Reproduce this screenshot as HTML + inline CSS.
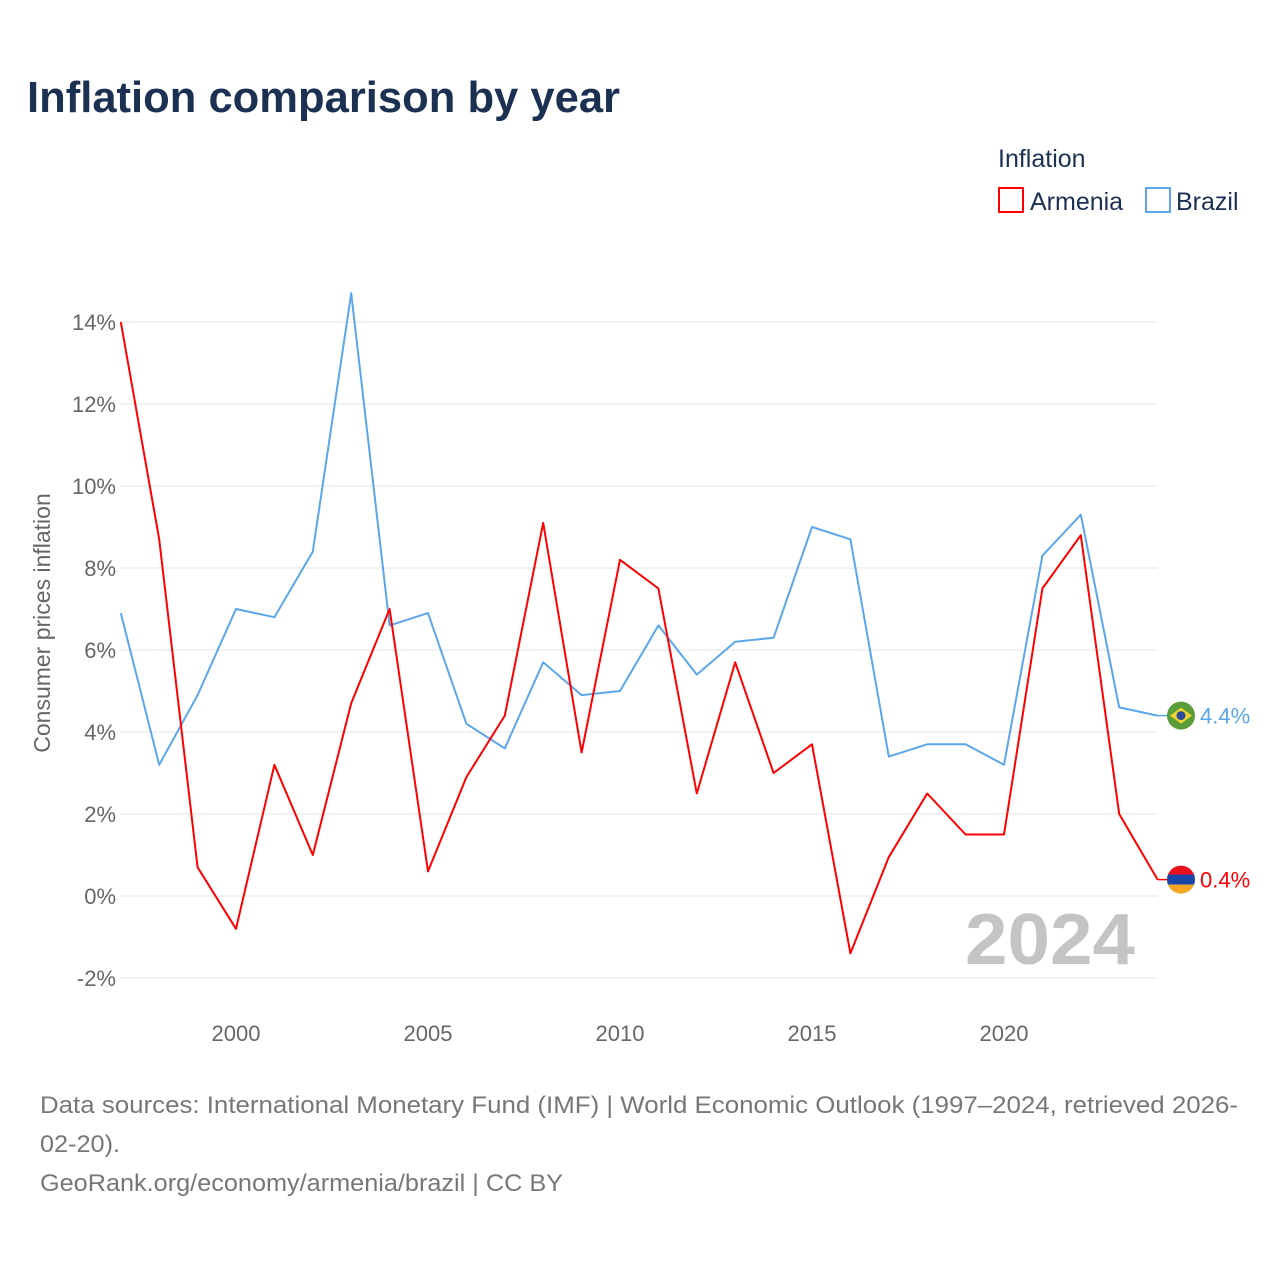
<!DOCTYPE html>
<html><head><meta charset="utf-8">
<style>
body{margin:0;background:#fff;font-family:"Liberation Sans",sans-serif;}
svg text{font-family:"Liberation Sans",sans-serif;}
</style></head>
<body>
<svg id="chart" width="1280" height="1280" viewBox="0 0 1280 1280">
<text x="27" y="112" font-size="44" font-weight="bold" fill="#1c3152" textLength="593" lengthAdjust="spacingAndGlyphs">Inflation comparison by year</text>
<g>
<text x="998" y="167" font-size="25" fill="#1c3152">Inflation</text>
<g><rect x="999" y="188" width="24" height="24" fill="none" stroke="#ff0000" stroke-width="2"/><text x="1030" y="210" font-size="25" fill="#1c3152">Armenia</text></g>
<g><rect x="1146" y="188" width="24" height="24" fill="none" stroke="#5ba7ea" stroke-width="2"/><text x="1176" y="210" font-size="25" fill="#1c3152">Brazil</text></g>
</g>
<g id="grid"></g>
<g id="yticks"></g>
<g id="xticks"></g>
<text transform="translate(50,623) rotate(-90)" text-anchor="middle" font-size="23" fill="#666">Consumer prices inflation</text>
<text x="965" y="964" font-size="72" font-weight="bold" fill="#c4c4c4" textLength="170" lengthAdjust="spacingAndGlyphs">2024</text>
<g id="series"></g>
<text x="40" y="1113" font-size="24" fill="#777" textLength="1198" lengthAdjust="spacingAndGlyphs">Data sources: International Monetary Fund (IMF) | World Economic Outlook (1997–2024, retrieved 2026-</text>
<text x="40" y="1152" font-size="24" fill="#777" textLength="80" lengthAdjust="spacingAndGlyphs">02-20).</text>
<text x="40" y="1191" font-size="24" fill="#777" textLength="523" lengthAdjust="spacingAndGlyphs">GeoRank.org/economy/armenia/brazil | CC BY</text>
</svg>
<script>
const years=[1997,1998,1999,2000,2001,2002,2003,2004,2005,2006,2007,2008,2009,2010,2011,2012,2013,2014,2015,2016,2017,2018,2019,2020,2021,2022,2023,2024];
const armenia=[14.0,8.7,0.7,-0.8,3.2,1.0,4.7,7.0,0.6,2.9,4.4,9.1,3.5,8.2,7.5,2.5,5.7,3.0,3.7,-1.4,0.95,2.5,1.5,1.5,7.5,8.8,2.0,0.4];
const brazil=[6.9,3.2,4.9,7.0,6.8,8.4,14.7,6.6,6.9,4.2,3.6,5.7,4.9,5.0,6.6,5.4,6.2,6.3,9.0,8.7,3.4,3.7,3.7,3.2,8.3,9.3,4.6,4.4];
const yTicks=[-2,0,2,4,6,8,10,12,14];
const xTicks=[2000,2005,2010,2015,2020];
const NS="http://www.w3.org/2000/svg";
const X=y=>120.8+(y-1997)*38.4;
const Y=v=>896-v*41;
function mk(tag,attrs,parent){const e=document.createElementNS(NS,tag);for(const k in attrs)e.setAttribute(k,attrs[k]);parent.appendChild(e);return e;}
const grid=document.getElementById('grid'),yt=document.getElementById('yticks'),xt=document.getElementById('xticks'),ser=document.getElementById('series');
yTicks.forEach(t=>{
  const l=mk('line',{x1:120,x2:1157,y1:Y(t),y2:Y(t),stroke:'#e6e6e6','stroke-width':1},grid);
  
  
  const tx=mk('text',{x:116,y:Y(t)+8,'text-anchor':'end','font-size':22,fill:'#666'},yt);
  tx.textContent=t+'%';
  
  
});
xTicks.forEach(t=>{
  const tx=mk('text',{x:X(t),y:1041,'text-anchor':'middle','font-size':22,fill:'#666'},xt);
  tx.textContent=t;
  
  
});
function line(vals,color,name){
  const p=mk('polyline',{points:vals.map((v,i)=>X(years[i])+','+Y(v)).join(' '),fill:'none',stroke:color,'stroke-width':2,'stroke-linejoin':'round'},ser);
  
  
  const last=vals[vals.length-1],lx=X(years[years.length-1]);
  mk('line',{x1:lx,x2:1168,y1:Y(last),y2:Y(last),stroke:color,'stroke-width':1.5},ser);
  const lab=mk('text',{x:1200,y:Y(last)+8,'font-size':22,fill:color},ser);
  lab.textContent=last.toFixed(1)+'%';
  
  
}
line(brazil,'#5ba7ea','brazil-line');
line(armenia,'#ff0000','armenia-line');
const by=Y(brazil[brazil.length-1]);
const bf=mk('g',{},ser);


mk('circle',{cx:1181,cy:by,r:14,fill:'#5a9e3a'},bf);
mk('polygon',{points:`1170,${by} 1181,${by-8} 1192,${by} 1181,${by+8}`,fill:'#f2d22e'},bf);
mk('circle',{cx:1181,cy:by,r:4.5,fill:'#2c4a9a'},bf);
const ay=Y(armenia[armenia.length-1]);
const af=mk('g',{},ser);


const cp=mk('clipPath',{id:'ac'},af);mk('circle',{cx:1181,cy:ay,r:14},cp);
mk('rect',{x:1167,y:ay-14,width:28,height:10,fill:'#e8101c','clip-path':'url(#ac)'},af);
mk('rect',{x:1167,y:ay-5,width:28,height:10,fill:'#1845a8','clip-path':'url(#ac)'},af);
mk('rect',{x:1167,y:ay+5,width:28,height:10,fill:'#f5a623','clip-path':'url(#ac)'},af);
</script>
</body></html>
